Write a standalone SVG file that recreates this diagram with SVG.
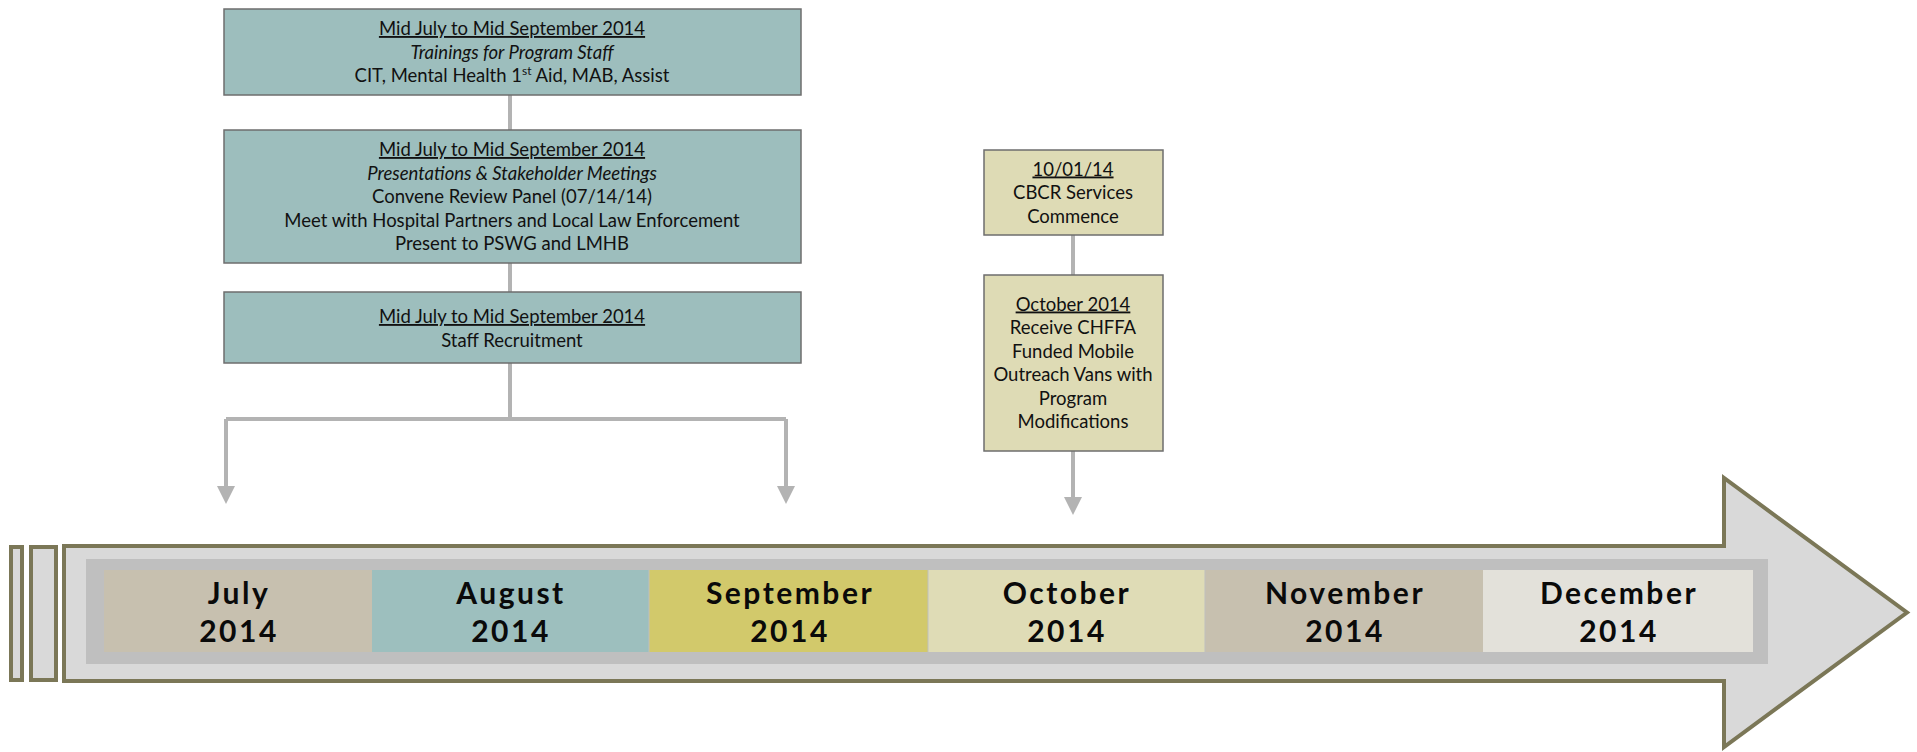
<svg xmlns="http://www.w3.org/2000/svg" width="1917" height="752" viewBox="0 0 1917 752">
<style>
.teal{fill:#9DBEBD;stroke:#6E6E6E;stroke-width:1.5}
.tan{fill:#DEDBB5;stroke:#6E6E6E;stroke-width:1.5}
.t{font-family:Lato,"Liberation Sans",sans-serif;font-size:18.5px;fill:#111;text-anchor:middle}
.u{text-decoration:underline}
.i{font-style:italic}
.m{font-family:Lato,"Liberation Sans",sans-serif;font-size:30px;font-weight:bold;letter-spacing:2.5px;fill:#0a0a0a;text-anchor:middle}
.conn{stroke:#B3B3B3;stroke-width:4;fill:none}
.frame{fill:#D9D9D9;stroke:#7B7757;stroke-width:4}
</style>
<defs>
<marker id="ah" markerWidth="4.5" markerHeight="4.5" refX="0.5" refY="2.25" orient="auto" markerUnits="strokeWidth">
<path d="M0,0 L4.5,2.25 L0,4.5 Z" fill="#B3B3B3"/>
</marker>
</defs>

<g id="timeline">
<rect x="11" y="547" width="11" height="133" class="frame" stroke-width="3"/>
<rect x="31" y="547" width="25" height="133" class="frame" stroke-width="3"/>
<path d="M64,546 H1724 V478 L1907,612.5 L1724,747 V681 H64 Z" class="frame"/>
<rect x="86" y="559" width="1682" height="105" fill="#BFBFBF"/>
<rect x="104" y="570" width="268" height="82" fill="#C7C0AF"/>
<rect x="372" y="570" width="277" height="82" fill="#9DBFBE"/>
<rect x="649" y="570" width="279" height="82" fill="#D2C96B"/>
<rect x="928" y="570" width="277" height="82" fill="#DFDCB6"/>
<rect x="1205" y="570" width="278" height="82" fill="#C7C0AF"/>
<rect x="1483" y="570" width="270" height="82" fill="#E3E1DA"/>
<line x1="649" y1="570" x2="649" y2="652" stroke="#BFBFBF" stroke-width="1"/>
<line x1="928" y1="570" x2="928" y2="652" stroke="#BFBFBF" stroke-width="1"/>
<line x1="1205" y1="570" x2="1205" y2="652" stroke="#BFBFBF" stroke-width="1"/>
<text class="m" x="239" y="604">July</text><text class="m" x="239" y="642">2014</text>
<text class="m" x="511" y="604">August</text><text class="m" x="511" y="642">2014</text>
<text class="m" x="790" y="604">September</text><text class="m" x="790" y="642">2014</text>
<text class="m" x="1067" y="604">October</text><text class="m" x="1067" y="642">2014</text>
<text class="m" x="1345" y="604">November</text><text class="m" x="1345" y="642">2014</text>
<text class="m" x="1619" y="604">December</text><text class="m" x="1619" y="642">2014</text>
</g>

<g id="connectors">
<line x1="510" y1="95" x2="510" y2="130" class="conn"/>
<line x1="510" y1="263" x2="510" y2="292" class="conn"/>
<path d="M510,363 V419 M226,419 H786" class="conn"/>
<path d="M226,419 V488" class="conn" marker-end="url(#ah)"/>
<path d="M786,419 V488" class="conn" marker-end="url(#ah)"/>
<line x1="1073" y1="235" x2="1073" y2="275" class="conn"/>
<path d="M1073,451 V499" class="conn" marker-end="url(#ah)"/>
</g>

<g id="node-trainings">
<rect x="224" y="9" width="577" height="86" class="teal"/>
<text class="t u" x="512" y="35">Mid July to Mid September 2014</text>
<text class="t i" x="512" y="58.5">Trainings for Program Staff</text>
<text class="t" x="512" y="82">CIT, Mental Health 1<tspan font-size="12" baseline-shift="super">st</tspan> Aid, MAB, Assist</text>
</g>

<g id="node-presentations">
<rect x="224" y="130" width="577" height="133" class="teal"/>
<text class="t u" x="512" y="156">Mid July to Mid September 2014</text>
<text class="t i" x="512" y="179.5">Presentations &amp; Stakeholder Meetings</text>
<text class="t" x="512" y="203">Convene Review Panel (07/14/14)</text>
<text class="t" x="512" y="226.5">Meet with Hospital Partners and Local Law Enforcement</text>
<text class="t" x="512" y="250">Present to PSWG and LMHB</text>
</g>

<g id="node-recruitment">
<rect x="224" y="292" width="577" height="71" class="teal"/>
<text class="t u" x="512" y="323">Mid July to Mid September 2014</text>
<text class="t" x="512" y="346.5">Staff Recruitment</text>
</g>

<g id="node-cbcr">
<rect x="984" y="150" width="179" height="85" class="tan"/>
<text class="t u" x="1073" y="175.5">10/01/14</text>
<text class="t" x="1073" y="199">CBCR Services</text>
<text class="t" x="1073" y="222.5">Commence</text>
</g>

<g id="node-vans">
<rect x="984" y="275" width="179" height="176" class="tan"/>
<text class="t u" x="1073" y="310.5">October 2014</text>
<text class="t" x="1073" y="334">Receive CHFFA</text>
<text class="t" x="1073" y="357.5">Funded Mobile</text>
<text class="t" x="1073" y="381">Outreach Vans with</text>
<text class="t" x="1073" y="404.5">Program</text>
<text class="t" x="1073" y="428">Modifications</text>
</g>
</svg>
